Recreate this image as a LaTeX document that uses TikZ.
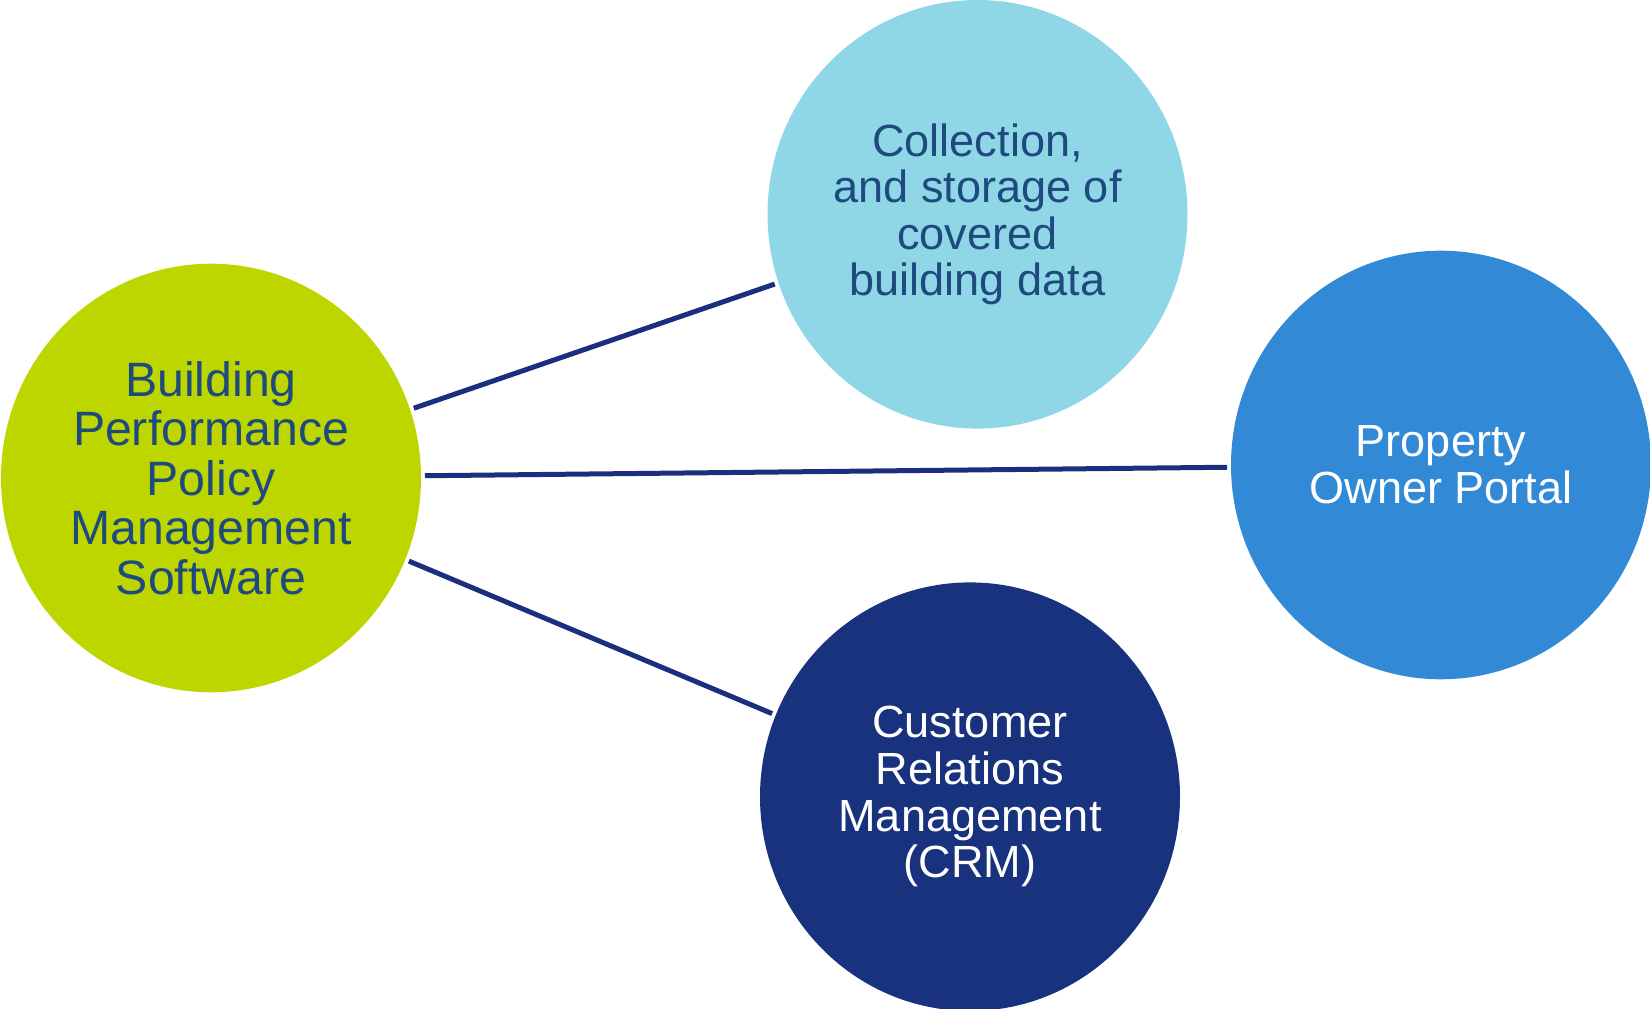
\documentclass[tikz,border=0pt]{standalone}
\usepackage{fontspec}
\setmainfont{Liberation Sans}
\usetikzlibrary{shapes.geometric}

\definecolor{bpGreen}{HTML}{BDD600}
\definecolor{bpSky}{HTML}{8FD7E7}
\definecolor{bpBlue}{HTML}{3289D6}
\definecolor{bpNavy}{HTML}{18327E}
\definecolor{bpText}{HTML}{1F4A7E}
\definecolor{bpLine}{HTML}{1C2F7E}

\begin{document}
\begin{tikzpicture}[x=0.5pt,y=0.5pt,
    bubble/.style={ellipse,minimum width=210pt,minimum height=214.3pt,
      inner sep=0pt,outer sep=2pt,align=center,
      font=\fontsize{22.55}{23.3}\selectfont},
    link/.style={draw=bpLine,line width=2.5pt}]
            \useasboundingbox (0,0) rectangle (1650,1008);

            % Bubbles
            \node[bubble,fill=bpGreen,text=bpText,font=\fontsize{24.1}{24.7}\selectfont] (bpps) at (211,530)
                {Building\\Performance\\Policy\\Management\\Software};
            \node[bubble,fill=bpSky,text=bpText]  (data)   at (977.5,793.7) {Collection,\\and storage of\\covered\\building data};
            \node[bubble,fill=bpBlue,text=white]  (portal) at (1441,543)    {Property\\Owner Portal};
            \node[bubble,fill=bpNavy,text=white]  (crm)    at (970,211.3)   {Customer\\Relations\\Management\\(CRM)};

            % Links
            \draw[link] (bpps) -- (data);
            \draw[link] (bpps) -- (portal);
            \draw[link] (bpps) -- (crm);
        \end{tikzpicture}
\end{document}
